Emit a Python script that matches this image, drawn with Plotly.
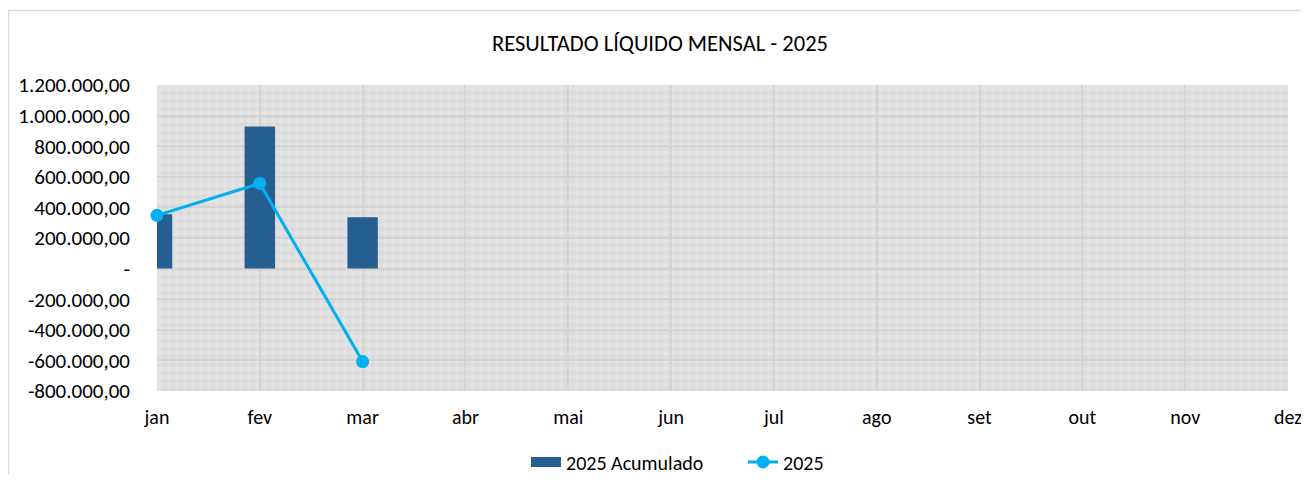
import plotly.graph_objects as go

months = ['jan', 'fev', 'mar', 'abr', 'mai', 'jun', 'jul', 'ago', 'set', 'out', 'nov', 'dez']
acumulado_2025 = [355000, 928000, 335000]
mensal_2025 = [348000, 557000, -608000]

y_ticks = [1200000, 1000000, 800000, 600000, 400000, 200000, 0,
           -200000, -400000, -600000, -800000]

BAR_COLOR = '#255e91'
LINE_COLOR = '#00b0f0'


def fmt_br(v):
    if v == 0:
        return '-'
    s = f"{abs(v):,.2f}".replace(',', 'X').replace('.', ',').replace('X', '.')
    return ('-' if v < 0 else '') + s


fig = go.Figure()

fig.add_trace(go.Bar(
    x=list(range(len(acumulado_2025))), y=acumulado_2025, name='2025 Acumulado',
    marker=dict(color=BAR_COLOR, line=dict(width=0)), width=0.296,
    showlegend=False,
))
# legend entry drawn as a wide bar swatch, like excel
fig.add_trace(go.Scatter(
    x=[None], y=[None], mode='lines', name='2025 Acumulado',
    line=dict(color=BAR_COLOR, width=12),
))
fig.add_trace(go.Scatter(
    x=list(range(len(mensal_2025))), y=mensal_2025, name='2025', mode='lines+markers',
    line=dict(color=LINE_COLOR, width=3), marker=dict(size=13, color=LINE_COLOR),
    cliponaxis=False,
))

W, H = 1301, 466
fig.update_layout(
    width=W, height=H,
    margin=dict(l=149, r=21, t=77, b=H - 77 - 306, pad=0),
    paper_bgcolor='white', plot_bgcolor='#e4e4e4',
    font=dict(family='Carlito, Lato, sans-serif', size=20, color='#000000'),
    title=dict(text='RESULTADO LÍQUIDO MENSAL - 2025', x=(660 - 8) / W, xanchor='center',
               y=1 - 35 / H, yanchor='middle', font=dict(size=22.5, color='#000000')),
    showlegend=True,
    legend=dict(orientation='h', xref='container', yref='container',
                x=(526 - 8) / W, xanchor='left', y=(H - 454) / H, yanchor='middle',
                font=dict(size=20), traceorder='normal', bgcolor='rgba(0,0,0,0)',
                entrywidth=172),
    shapes=[
        dict(type='line', xref='paper', yref='paper', x0=-148.5 / 1131, x1=2,
             y0=1 + 74.5 / 306, y1=1 + 74.5 / 306, line=dict(color='#d9d9d9', width=1.5)),
        dict(type='line', xref='paper', yref='paper', x0=-148.5 / 1131, x1=-148.5 / 1131,
             y0=1 + 74.5 / 306, y1=-2, line=dict(color='#d9d9d9', width=1.5)),
    ],
)

fig.update_xaxes(
    range=[0, 11], tickvals=list(range(12)), ticktext=months,
    showgrid=True, gridcolor='#d3d3d3', gridwidth=1.5,
    minor=dict(dtick=8 / 102.8, showgrid=True, gridcolor='rgba(0,0,0,0.02)', gridwidth=4),
    zeroline=False, showline=False, ticks='', ticklabelstandoff=12,
    ticklabeloverflow='allow', tickfont=dict(size=20), automargin=False,
)
fig.update_yaxes(
    range=[-800000, 1200000], tickvals=y_ticks, ticktext=[fmt_br(v) for v in y_ticks],
    showgrid=True, gridcolor='#d3d3d3', gridwidth=1.5,
    minor=dict(dtick=8 / 153 * 1000000, showgrid=True, gridcolor='rgba(0,0,0,0.02)', gridwidth=4),
    zeroline=False, showline=False, ticks='', ticklabelstandoff=26, tickfont=dict(size=21),
    automargin=False,
)

fig.write_html('out.html')
